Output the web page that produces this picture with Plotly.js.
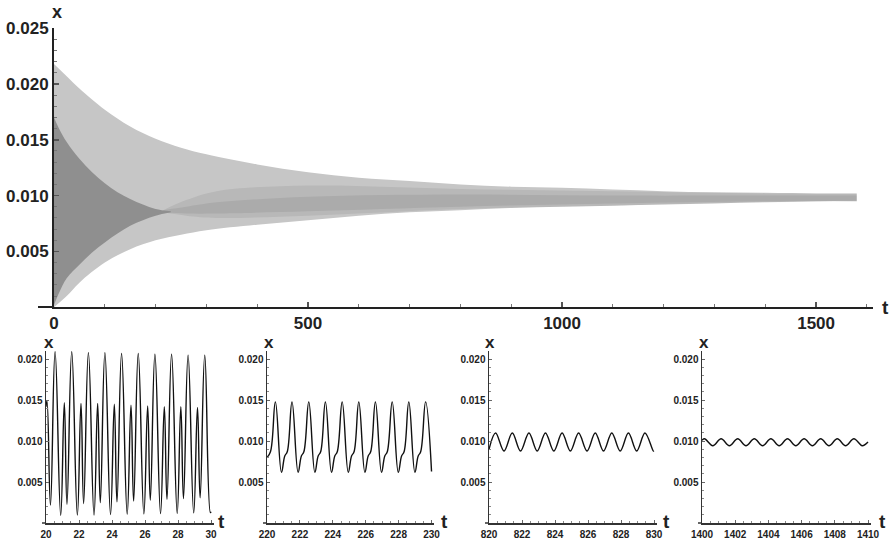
<!DOCTYPE html>
<html>
<head>
<meta charset="utf-8">
<script src="https://cdn.plot.ly/plotly-3.0.1.min.js"></script>
<style>html,body{margin:0;padding:0;background:#fff}#chart{width:892px;height:540px}</style>
</head>
<body>
<div id="chart"></div>
<script>
// ---- main panel: envelopes of the oscillation x(t) ----
const tEnv = [0, 25, 50, 100, 150, 200, 250, 300, 400, 500, 600, 700, 800, 900, 1000, 1100, 1200, 1300, 1400, 1500, 1580];
const xMax = [0.0218, 0.0207, 0.0196, 0.0177, 0.0162, 0.0151, 0.0143, 0.0137, 0.0128, 0.0121, 0.0116, 0.0113, 0.0110, 0.0108, 0.0107, 0.01055, 0.0104, 0.0103, 0.01025, 0.0102, 0.0102];
const xMin = [0.0000, 0.0010, 0.0022, 0.0040, 0.0052, 0.0060, 0.0065, 0.0069, 0.0074, 0.0078, 0.0082, 0.0085, 0.0087, 0.0089, 0.0090, 0.0091, 0.0092, 0.0093, 0.0094, 0.0095, 0.0095];
// inner (secondary peak / shallow minimum) envelopes, before they merge
const tInner = [0, 10, 25, 50, 75, 100, 125, 150, 175, 200, 230];
const xSmallPk = [0.0170, 0.0160, 0.0148, 0.0133, 0.0121, 0.0111, 0.0103, 0.0097, 0.0092, 0.0088, 0.0086];
const xShallowMin = [0.0002, 0.0013, 0.0026, 0.0038, 0.0049, 0.0058, 0.0066, 0.0073, 0.0078, 0.0082, 0.0085];
// denser (darker) central part of the band after merging
const tMid = [215, 260, 320, 500, 800, 1100, 1400, 1580];
const xMidLo = [0.0085, 0.0082, 0.0080, 0.0082, 0.0088, 0.0091, 0.0094, 0.0095];
const xMidHi = [0.0087, 0.0096, 0.0104, 0.0109, 0.0106, 0.0104, 0.0102, 0.0102];
const xCoreLo = [0.0085, 0.0084, 0.0084, 0.0086, 0.0090, 0.0093, 0.0095, 0.00955];
const xCoreHi = [0.0087, 0.0090, 0.0094, 0.0099, 0.0101, 0.0100, 0.0100, 0.0100];

// ---- panel 1: t 20..30 (turning points) ----
const t1 = [20.00, 20.06, 20.27, 20.55,
  20.89, 21.11, 21.27, 21.56,
  21.90, 22.12, 22.28, 22.57,
  22.91, 23.13, 23.29, 23.57,
  23.91, 24.14, 24.30, 24.58,
  24.92, 25.15, 25.31, 25.59,
  25.93, 26.16, 26.32, 26.60,
  26.94, 27.17, 27.33, 27.61,
  27.95, 28.17, 28.33, 28.61,
  28.95, 29.18, 29.34, 29.62,
  29.96, 30.00];
const x1 = [0.0142, 0.0149, 0.0022, 0.0209,
  0.00095, 0.0147, 0.0023, 0.0209,
  0.00098, 0.0146, 0.0024, 0.0208,
  0.0010, 0.0146, 0.0025, 0.0208,
  0.00105, 0.0145, 0.0026, 0.0207,
  0.0011, 0.0144, 0.0027, 0.0207,
  0.00113, 0.0143, 0.0028, 0.0206,
  0.00117, 0.0142, 0.0029, 0.0206,
  0.0012, 0.0142, 0.0030, 0.0205,
  0.00125, 0.0141, 0.0031, 0.0205,
  0.0013, 0.0014];

// ---- panel 2: t 220..230 ----
const t2 = [220.00, 220.21, 220.51,
  220.88, 221.08, 221.23, 221.52,
  221.89, 222.09, 222.24, 222.54,
  222.91, 223.11, 223.26, 223.55,
  223.92, 224.12, 224.27, 224.57,
  224.94, 225.14, 225.29, 225.58,
  225.95, 226.15, 226.30, 226.59,
  226.96, 227.16, 227.31, 227.61,
  227.98, 228.18, 228.33, 228.62,
  228.99, 229.19, 229.34, 229.64,
  230.00];
const x2 = [0.0080, 0.0087, 0.0148,
  0.0062, 0.0082, 0.0087, 0.0148,
  0.0062, 0.0082, 0.0087, 0.0148,
  0.0062, 0.0082, 0.0087, 0.0148,
  0.0062, 0.0082, 0.0087, 0.0148,
  0.0062, 0.0082, 0.0087, 0.0148,
  0.0062, 0.0082, 0.0087, 0.0148,
  0.0062, 0.0082, 0.0087, 0.0148,
  0.0062, 0.0082, 0.0087, 0.0148,
  0.0062, 0.0082, 0.0087, 0.0148,
  0.0063];

// ---- panel 3: t 820..830 ----
const t3 = [820.00, 820.40, 820.91, 821.41, 821.91, 822.42, 822.92, 823.42, 823.93, 824.43,
  824.93, 825.43, 825.94, 826.44, 826.94, 827.44, 827.95, 828.45, 828.95, 829.45, 829.96, 830.00];
const x3 = [0.0090, 0.0110, 0.0088, 0.0110, 0.0088, 0.0110, 0.0088, 0.0110, 0.0088, 0.0110,
  0.0088, 0.0110, 0.0088, 0.0110, 0.0088, 0.0110, 0.0088, 0.0110, 0.0088, 0.0110, 0.0088, 0.0088];

// ---- panel 4: t 1400..1410 ----
const t4 = [1400.00, 1400.15, 1400.65, 1401.15, 1401.65, 1402.15, 1402.65, 1403.15, 1403.65, 1404.15,
  1404.65, 1405.15, 1405.65, 1406.15, 1406.65, 1407.15, 1407.65, 1408.15, 1408.65, 1409.15, 1409.65, 1410.00];
const x4 = [0.0101, 0.0103, 0.00945, 0.0103, 0.00945, 0.0103, 0.00945, 0.0103, 0.00945, 0.0103,
  0.00945, 0.0103, 0.00945, 0.0103, 0.00945, 0.0103, 0.00945, 0.0103, 0.00945, 0.0103, 0.00945, 0.0099];

const W = 892, H = 540;
const px = v => v / W, py = v => 1 - v / H;
const FONT = 'Liberation Sans, Arial, Helvetica, sans-serif';

const band = (x, y, fill, color) => ({
  x: x, y: y, type: 'scatter', mode: 'lines', xaxis: 'x', yaxis: 'y',
  line: {width: 0, shape: 'spline', color: 'rgba(0,0,0,0)'},
  fill: fill ? 'tonexty' : 'none', fillcolor: color, hoverinfo: 'skip'
});

const osc = (x, y, n, sm) => ({
  x: x, y: y, type: 'scatter', mode: 'lines', xaxis: 'x' + n, yaxis: 'y' + n,
  line: {color: '#111', width: 1.4, shape: 'spline', smoothing: sm}, hoverinfo: 'skip'
});

const data = [
  band(tEnv, xMin, false),
  band(tEnv, xMax, true, '#c6c6c6'),
  band(tMid, xMidLo, false),
  band(tMid, xMidHi, true, 'rgba(0,0,0,0.07)'),
  band(tMid, xCoreLo, false),
  band(tMid, xCoreHi, true, 'rgba(0,0,0,0.07)'),
  band(tInner, xShallowMin, false),
  band(tInner, xSmallPk, true, '#8f8f8f'),
  osc(t1, x1, 2, 1.3), osc(t2, x2, 3, 1.2), osc(t3, x3, 4, 1), osc(t4, x4, 5, 1)
];

const mainTick = {family: FONT, size: 17, color: '#222', weight: 'bold'};
const subTick = {family: FONT, size: 10, color: '#222', weight: 'bold'};

const layout = {
  width: W, height: H, margin: {l: 0, r: 0, t: 0, b: 0},
  paper_bgcolor: '#fff', plot_bgcolor: 'rgba(0,0,0,0)', showlegend: false,
  xaxis: {domain: [px(54), px(873)], range: [0, 1612], anchor: 'y',
    showline: true, linecolor: '#222', linewidth: 2, zeroline: false, showgrid: false,
    tickmode: 'linear', tick0: 0, dtick: 500, ticks: 'inside', ticklen: 5, tickwidth: 1.5, tickcolor: '#555',
    minor: {dtick: 100, ticks: 'inside', ticklen: 3, tickcolor: '#777', tickwidth: 1},
    tickfont: mainTick, tickformat: 'd', ticklabelstandoff: 0},
  yaxis: {domain: [py(307), py(28)], range: [0.00002, 0.02502], anchor: 'x',
    showline: true, linecolor: '#222', linewidth: 2, zeroline: false, showgrid: false,
    tickmode: 'linear', tick0: 0, dtick: 0.005, ticks: 'inside', ticklen: 5, tickwidth: 1.5, tickcolor: '#555',
    minor: {dtick: 0.001, ticks: 'inside', ticklen: 3, tickcolor: '#777', tickwidth: 1},
    tickfont: mainTick, tickformat: '.3f'},
  shapes: [],
  annotations: []
};

const subs = [
  {n: 2, x0: 46, x1: 213.5, r: [20, 30.15], d: 2},
  {n: 3, x0: 267, x1: 434, r: [220, 230.15], d: 2},
  {n: 4, x0: 489, x1: 656.5, r: [820, 830.15], d: 2},
  {n: 5, x0: 702, x1: 870.5, r: [1400, 1410.15], d: 2}
];
const tPos = [221, 444, 666, 882];
const xPos = [49, 269, 490, 704];

subs.forEach((s, i) => {
  layout['xaxis' + s.n] = {domain: [px(s.x0), px(s.x1)], range: s.r, anchor: 'y' + s.n,
    showline: true, linecolor: '#333', linewidth: 1.5, zeroline: false, showgrid: false,
    tickmode: 'linear', tick0: s.r[0], dtick: s.d, ticks: 'inside', ticklen: 3, tickwidth: 1, tickcolor: '#666',
    minor: {dtick: 0.5, ticks: 'inside', ticklen: 2, tickcolor: '#888', tickwidth: 1},
    tickfont: subTick, tickformat: 'd', ticklabelstandoff: 1};
  layout['yaxis' + s.n] = {domain: [py(523), py(351)], range: [0.00002, 0.021], anchor: 'x' + s.n,
    showline: true, linecolor: '#333', linewidth: 1.5, zeroline: false, showgrid: false,
    tickmode: 'linear', tick0: 0, dtick: 0.005, ticks: 'inside', ticklen: 3, tickwidth: 1, tickcolor: '#666',
    minor: {dtick: 0.001, ticks: 'inside', ticklen: 2, tickcolor: '#888', tickwidth: 1},
    tickfont: subTick, tickformat: '.3f'};
  layout.shapes.push({type: 'line', xref: 'paper', yref: 'paper',
    x0: px(s.x0 - 4), x1: px(s.x0), y0: py(523), y1: py(523), line: {color: '#333', width: 1.5}});
  layout.annotations.push({text: 't', xref: 'paper', yref: 'paper', x: px(tPos[i]), y: py(521),
    xanchor: 'center', yanchor: 'middle', showarrow: false, font: {family: FONT, size: 19, color: '#222', weight: 'bold'}});
  layout.annotations.push({text: 'x', xref: 'paper', yref: 'paper', x: px(xPos[i]), y: py(342),
    xanchor: 'center', yanchor: 'middle', showarrow: false, font: {family: FONT, size: 17, color: '#222', weight: 'bold'}});
});

layout.shapes.push({type: 'line', xref: 'paper', yref: 'paper',
  x0: px(38), x1: px(54), y0: py(307), y1: py(307), line: {color: '#222', width: 2}});
layout.annotations.push({text: 'x', xref: 'paper', yref: 'paper', x: px(57), y: py(12),
  xanchor: 'center', yanchor: 'middle', showarrow: false, font: {family: FONT, size: 18, color: '#222', weight: 'bold'}});
layout.annotations.push({text: 't', xref: 'paper', yref: 'paper', x: px(885), y: py(307),
  xanchor: 'center', yanchor: 'middle', showarrow: false, font: {family: FONT, size: 19, color: '#222', weight: 'bold'}});

Plotly.newPlot('chart', data, layout, {staticPlot: true, displayModeBar: false});
</script>
</body>
</html>
